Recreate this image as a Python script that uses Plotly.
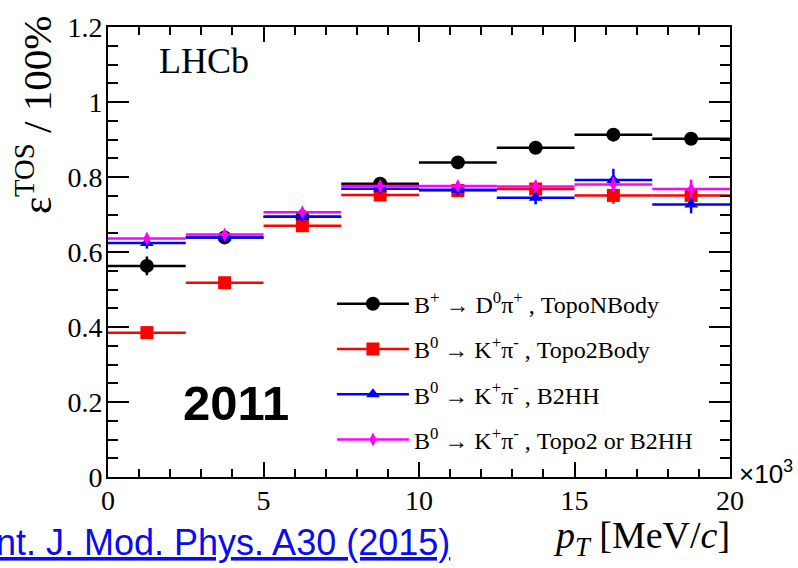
import plotly.graph_objects as go

# pT bins (in units of 10^3 MeV/c), bin width 2.5
pt_centers = [1.25, 3.75, 6.25, 8.75, 11.25, 13.75, 16.25, 18.75]
pt_halfwidth = [1.25] * 8

# TOS efficiencies
eff_dpi_topon = [0.563, 0.639, 0.694, 0.782, 0.839, 0.878, 0.913, 0.902]
err_dpi_topon = [0.025, 0.012, 0.010, 0.010, 0.010, 0.010, 0.012, 0.012]

eff_kpi_topo2 = [0.385, 0.518, 0.670, 0.752, 0.764, 0.768, 0.751, 0.751]
err_kpi_topo2 = [0.012, 0.012, 0.012, 0.012, 0.015, 0.018, 0.022, 0.020]

eff_kpi_b2hh = [0.624, 0.639, 0.694, 0.769, 0.766, 0.745, 0.792, 0.727]
err_kpi_b2hh = [0.015, 0.012, 0.012, 0.012, 0.015, 0.018, 0.030, 0.024]

eff_kpi_or = [0.636, 0.647, 0.706, 0.776, 0.776, 0.775, 0.780, 0.768]
err_kpi_or = [0.012, 0.010, 0.010, 0.012, 0.012, 0.016, 0.020, 0.025]

series = [
    ("B<sup>+</sup> \u2192 D<sup>0</sup>\u03c0<sup>+</sup> , TopoNBody", eff_dpi_topon, err_dpi_topon, "black", "circle", 14),
    ("B<sup>0</sup> \u2192 K<sup>+</sup>\u03c0<sup>-</sup> , Topo2Body", eff_kpi_topo2, err_kpi_topo2, "#ff0000", "square", 13),
    ("B<sup>0</sup> \u2192 K<sup>+</sup>\u03c0<sup>-</sup> , B2HH", eff_kpi_b2hh, err_kpi_b2hh, "#0000ff", "triangle-up", 12),
    ("B<sup>0</sup> \u2192 K<sup>+</sup>\u03c0<sup>-</sup> , Topo2 or B2HH", eff_kpi_or, err_kpi_or, "#ff00ff", "diamond-tall", 10),
]

fig = go.Figure()

for i, (name, eff, err, col, sym, size) in enumerate(series):
    fig.add_trace(go.Scatter(
        x=pt_centers, y=eff, mode="markers", showlegend=False,
        marker=dict(color=col, symbol=sym, size=size),
        error_x=dict(type="data", array=pt_halfwidth, color=col, thickness=2.5, width=0),
        error_y=dict(type="data", array=err, color=col, thickness=2.5, width=0),
    ))

# legend entries (line + marker like the ROOT legend)
for i, (name, eff, err, col, sym, size) in enumerate(series):
    fig.add_trace(go.Scatter(
        x=[None], y=[None], mode="lines+markers", name=name,
        legendgroup=str(i),
        line=dict(color=col, width=2.5),
        marker=dict(color=col, symbol=sym, size=size),
    ))

axis_common = dict(
    showline=True, linecolor="black", linewidth=2, mirror="allticks",
    ticks="inside", tickcolor="black", tickwidth=2,
    showgrid=False, zeroline=False, ticklabeloverflow="allow",
    tickfont=dict(family="Liberation Serif", size=28, color="black"),
)

fig.update_xaxes(range=[0, 20], tickvals=[0, 5, 10, 15, 20], ticklen=15,
                 ticklabelstandoff=-3,
                 minor=dict(dtick=1, ticks="inside", ticklen=8, tickcolor="black", tickwidth=2),
                 **axis_common)
fig.update_yaxes(range=[0, 1.2], tickvals=[0, 0.2, 0.4, 0.6, 0.8, 1.0, 1.2], ticklen=21,
                 ticklabelstandoff=-2,
                 minor=dict(dtick=0.05, ticks="inside", ticklen=10, tickcolor="black", tickwidth=2),
                 **axis_common)

fig.update_layout(
    width=798, height=568,
    margin=dict(l=108, r=68, t=15, b=91),
    paper_bgcolor="white", plot_bgcolor="white",
    font=dict(family="Liberation Serif", color="black"),
    legend=dict(x=0.36, y=0.434, xanchor="left", yanchor="top",
                font=dict(family="Liberation Serif", size=24, color="black"),
                bgcolor="rgba(0,0,0,0)", tracegroupgap=11, itemwidth=72),
    annotations=[
        dict(text="LHCb", x=0.079, y=0.925, xref="paper", yref="paper",
             xanchor="left", yanchor="middle", showarrow=False,
             font=dict(family="Liberation Serif", size=36, color="black")),
        dict(text="<b>2011</b>", x=0.206, y=0.165, xref="paper", yref="paper",
             xanchor="center", yanchor="middle", showarrow=False,
             font=dict(family="Liberation Sans", size=49, color="black")),
        dict(text="\u03b5<sup>TOS</sup> / 100%", x=-0.12, y=0.805, xref="paper", yref="paper",
             xanchor="center", yanchor="middle", showarrow=False, textangle=-90,
             font=dict(family="Liberation Serif", size=41, color="black")),
        dict(text="<i>p</i><sub><i>T</i></sub> [MeV/<i>c</i>]", x=1.003, y=-0.136,
             xref="paper", yref="paper", xanchor="right", yanchor="middle", showarrow=False,
             font=dict(family="Liberation Serif", size=38, color="black")),
        dict(text="\u00d710<sup>3</sup>", x=1.011, y=0.011, xref="paper", yref="paper",
             xanchor="left", yanchor="middle", showarrow=False,
             font=dict(family="Liberation Sans", size=26, color="black")),
        dict(text="<u>Int. J. Mod. Phys. A30 (2015)</u>", x=0.553, y=-0.145,
             xref="paper", yref="paper", xanchor="right", yanchor="middle", showarrow=False,
             font=dict(family="Liberation Sans", size=36, color="#0b0bf0")),
    ],
)

# page body has an 8px default margin; drop it so the figure sits at the window corner
fig.write_html("out.html", config={"displayModeBar": False},
               post_script="document.body.style.margin='0';")
